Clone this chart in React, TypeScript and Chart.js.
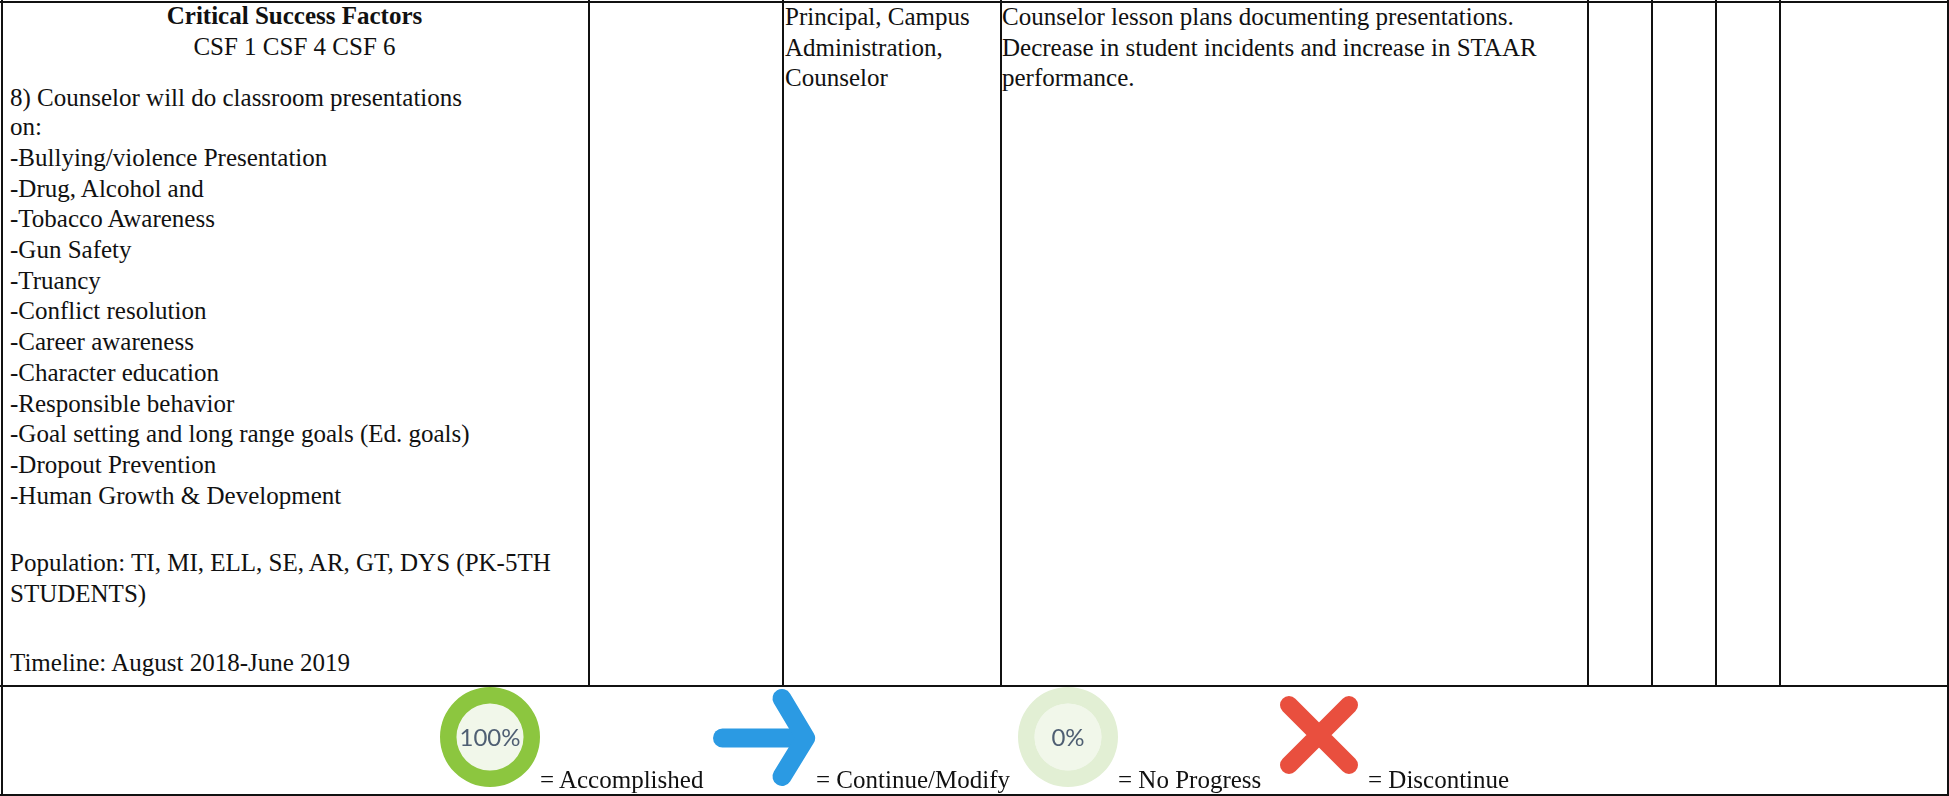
import React, { useEffect, useRef } from "react";
import { Chart, registerables } from "chart.js";

Chart.register(...registerables);

// ---- content ----
const headerTitle = "Critical Success Factors";
const headerSub = "CSF 1 CSF 4 CSF 6";
const strategyLines = [
  "8) Counselor will do classroom presentations",
  "on:",
  "-Bullying/violence Presentation",
  "-Drug, Alcohol and",
  "-Tobacco Awareness",
  "-Gun Safety",
  "-Truancy",
  "-Conflict resolution",
  "-Career awareness",
  "-Character education",
  "-Responsible behavior",
  "-Goal setting and long range goals (Ed. goals)",
  "-Dropout Prevention",
  "-Human Growth & Development",
  "Population: TI, MI, ELL, SE, AR, GT, DYS (PK-5TH",
  "STUDENTS)",
  "Timeline: August 2018-June 2019",
];
const staffLines = ["Principal, Campus", "Administration,", "Counselor"];
const evidenceLines = [
  "Counselor lesson plans documenting presentations.",
  "Decrease in student incidents and increase in STAAR",
  "performance.",
];
const accomplishedValues = [100, 0];
const noProgressValues = [0, 100];
const legendLabels = ["= Accomplished", "= Continue/Modify", "= No Progress", "= Discontinue"];
const ringLabels = ["100%", "0%"];

// ---- layout ----
const W = 1949;
const H = 796;
const FONT = "'Liberation Serif', serif";
const FS = 25;
const columnX = [589, 783, 1001, 1588, 1652, 1716, 1780];
const strategyY = [98, 127, 158, 189, 219, 250, 281, 311, 342, 373, 404, 434, 465, 496, 563, 594, 663];
const rightCellY = [17, 48, 78];
const legendX = [540, 816, 1118, 1368];

const ringPlugin = {
  id: "ringCore",
  beforeDatasetsDraw(chart: any) {
    const meta = chart.getDatasetMeta(0).data[0];
    if (!meta) return;
    const { ctx } = chart;
    ctx.save();
    ctx.fillStyle = chart.options.plugins.ringCore.fill;
    ctx.beginPath();
    ctx.arc(meta.x, meta.y, meta.innerRadius, 0, Math.PI * 2);
    ctx.fill();
    ctx.restore();
  },
};

function Ring({ values, colors, label, left, top }: any) {
  const ref = useRef<HTMLCanvasElement>(null);
  useEffect(() => {
    const chart = new Chart(ref.current as HTMLCanvasElement, {
      type: "doughnut",
      data: {
        labels: ["Progress", "Remaining"],
        datasets: [{ data: values, backgroundColor: colors, borderWidth: 0 }],
      },
      options: {
        animation: false,
        responsive: false,
        cutout: "67%",
        layout: { padding: 0 },
        plugins: { legend: { display: false }, tooltip: { enabled: false }, ringCore: { fill: "#f1f7ea" } } as any,
      },
      plugins: [ringPlugin],
    });
    return () => chart.destroy();
  }, []);
  return (
    <div style={{ position: "absolute", left, top, width: 100, height: 100 }}>
      <canvas ref={ref} width={100} height={100} style={{ display: "block" }} />
      <div
        style={{
          position: "absolute",
          left: 0,
          top: 0,
          width: 100,
          height: 100,
          lineHeight: "100px",
          textAlign: "center",
          fontFamily: "Lato, sans-serif",
          fontSize: 24,
          color: "#4f5f73",
        }}
      >
        {label}
      </div>
    </div>
  );
}

function Line({ x, cy, text, bold, width }: any) {
  return (
    <div
      style={{
        position: "absolute",
        left: x,
        top: cy - 15,
        width,
        height: 30,
        lineHeight: "30px",
        fontFamily: FONT,
        fontSize: FS,
        fontWeight: bold ? 700 : 400,
        textAlign: width ? "center" : "left",
        whiteSpace: "nowrap",
        color: "#111",
      }}
    >
      {text}
    </div>
  );
}

const rule = (left: number, top: number, width: number, height: number, key: string) => (
  <div key={key} style={{ position: "absolute", left, top, width, height, background: "#111" }} />
);

export default function App() {
  return (
    <div style={{ position: "fixed", left: 0, top: 0, width: W, height: H, background: "#fff", overflow: "hidden" }}>
      {rule(0, 1, W, 2, "top")}
      {rule(0, 685, W, 2, "mid")}
      {rule(0, 794, W, 2, "bottom")}
      {rule(1, 0, 2, H, "left")}
      {rule(W - 2, 0, 2, H, "right")}
      {columnX.map((x) => rule(x - 1, 0, 2, 686, "c" + x))}

      <Line x={0} width={589} cy={16} text={headerTitle} bold />
      <Line x={0} width={589} cy={47} text={headerSub} />
      {strategyLines.map((t, i) => (
        <Line key={i} x={10} cy={strategyY[i]} text={t} />
      ))}
      {staffLines.map((t, i) => (
        <Line key={i} x={785} cy={rightCellY[i]} text={t} />
      ))}
      {evidenceLines.map((t, i) => (
        <Line key={i} x={1002} cy={rightCellY[i]} text={t} />
      ))}

      <Ring values={accomplishedValues} colors={["#8cc63f", "#e2efd4"]} label={ringLabels[0]} left={440} top={687} />
      <Ring values={noProgressValues} colors={["#8cc63f", "#e2efd4"]} label={ringLabels[1]} left={1018} top={687} />

      <svg style={{ position: "absolute", left: 0, top: 0 }} width={W} height={H}>
        <path d="M722.5 738 H800" stroke="#2b9ae3" strokeWidth={19} strokeLinecap="round" fill="none" />
        <path d="M782 698.5 L805.6 738 L782 776.5" stroke="#2b9ae3" strokeWidth={19} strokeLinecap="round" strokeLinejoin="round" fill="none" />
        <path d="M1289 705 L1349 765 M1349 705 L1289 765" stroke="#e94f3e" strokeWidth={18} strokeLinecap="round" fill="none" />
      </svg>

      {legendLabels.map((t, i) => (
        <Line key={i} x={legendX[i]} cy={780} text={t} />
      ))}
    </div>
  );
}
